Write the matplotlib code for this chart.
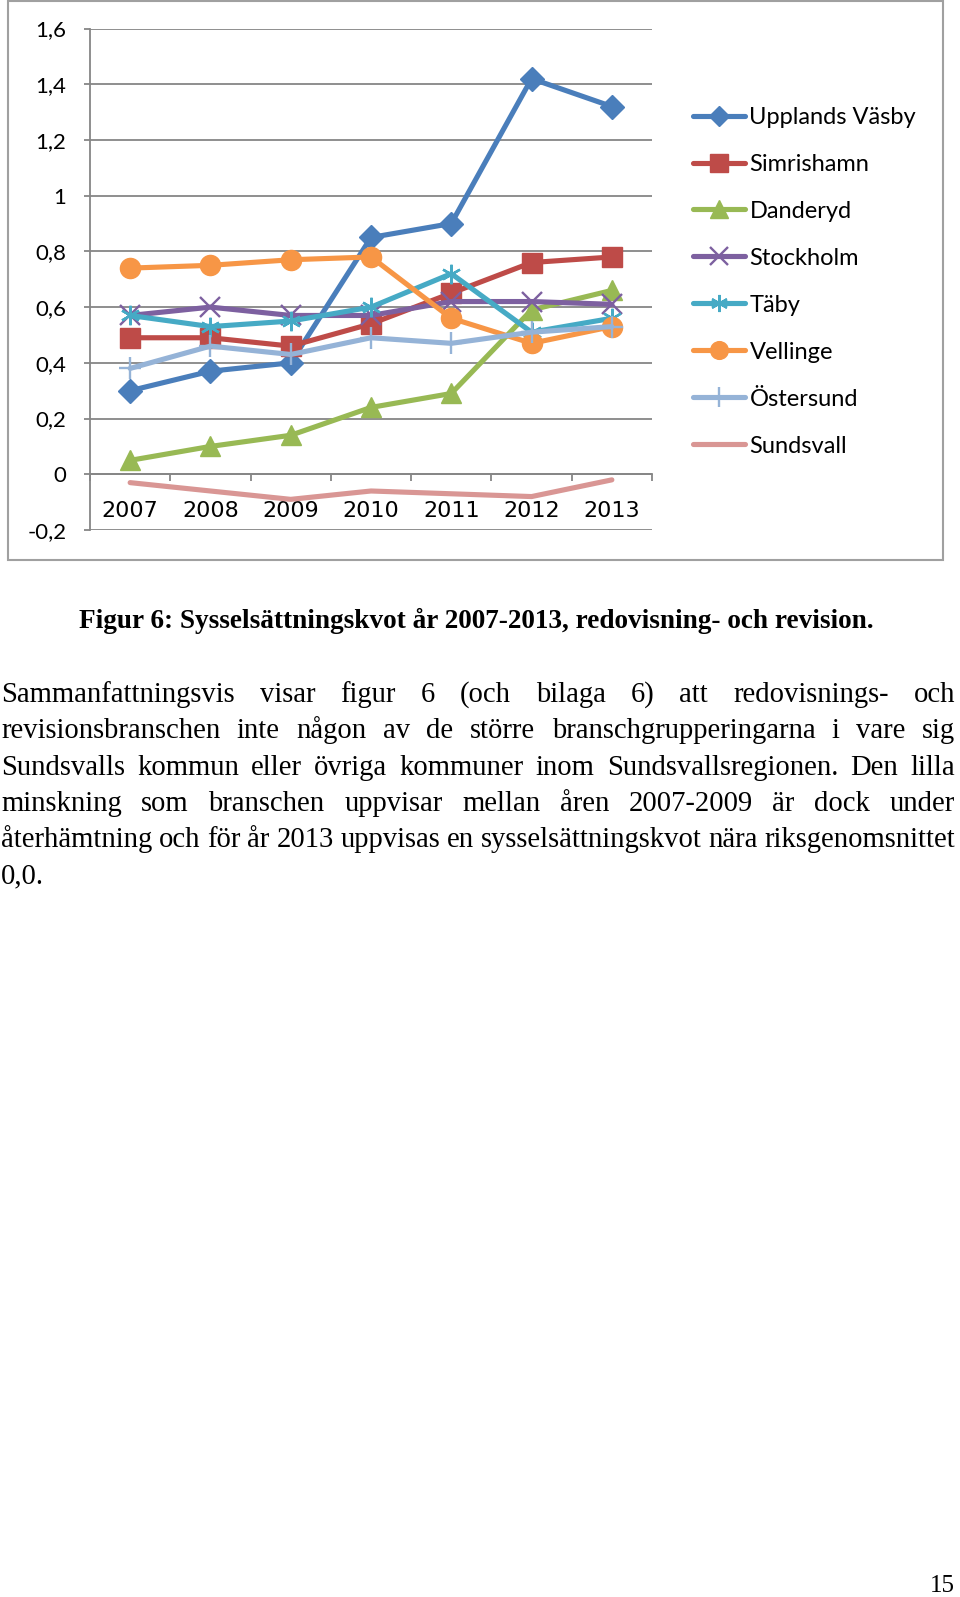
import numpy as np
import matplotlib.pyplot as plt
from matplotlib.patches import Rectangle

# chart data
years = ['2007', '2008', '2009', '2010', '2011', '2012', '2013']
upplands_vasby = [0.30, 0.37, 0.40, 0.85, 0.90, 1.42, 1.32]
simrishamn = [0.49, 0.49, 0.46, 0.54, 0.65, 0.76, 0.78]
danderyd = [0.05, 0.10, 0.14, 0.24, 0.29, 0.59, 0.66]
stockholm = [0.57, 0.60, 0.57, 0.57, 0.62, 0.62, 0.61]
taby = [0.57, 0.53, 0.55, 0.60, 0.72, 0.51, 0.56]
vellinge = [0.74, 0.75, 0.77, 0.78, 0.56, 0.47, 0.53]
ostersund = [0.38, 0.46, 0.43, 0.49, 0.47, 0.51, 0.53]
sundsvall = [-0.03, -0.06, -0.09, -0.06, -0.07, -0.08, -0.02]

names = ['Upplands Väsby', 'Simrishamn', 'Danderyd', 'Stockholm', 'Täby',
         'Vellinge', 'Östersund', 'Sundsvall']
series = [upplands_vasby, simrishamn, danderyd, stockholm, taby,
          vellinge, ostersund, sundsvall]
colors = ['#4A7EBB', '#BE4B48', '#98B954', '#7D60A0', '#46AAC5',
          '#F79646', '#95B3D7', '#D99694']
markers = ['D', 's', '^', 'x', (6, 2, 0), 'o', '+', None]
msizes = [12, 14, 15, 14, 14, 14.5, 16, 0]

ytick_vals = [-0.2, 0, 0.2, 0.4, 0.6, 0.8, 1.0, 1.2, 1.4, 1.6]
ytick_labels = ['-0,2', '0', '0,2', '0,4', '0,6', '0,8', '1', '1,2', '1,4', '1,6']

caption = 'Figur 6: Sysselsättningskvot år 2007-2013, redovisning- och revision.'
para_lines = [
    'Sammanfattningsvis visar figur 6 (och bilaga 6) att redovisnings- och',
    'revisionsbranschen inte någon av de större branschgrupperingarna i vare sig',
    'Sundsvalls kommun eller övriga kommuner inom Sundsvallsregionen. Den lilla',
    'minskning som branschen uppvisar mellan åren 2007-2009 är dock under',
    'återhämtning och för år 2013 uppvisas en sysselsättningskvot nära riksgenomsnittet',
    '0,0.',
]

W, H = 960, 1597
fig = plt.figure(figsize=(W / 100, H / 100), dpi=100)
def fx(px): return px / W
def fy(py): return 1 - py / H

grid_col = '#868686'
tick_font = 'Lato'

ax = fig.add_axes([fx(90), fy(530), fx(652) - fx(90), fy(28.5) - fy(530)])
x = np.arange(len(years))
for vals, name, c, m, ms in zip(series, names, colors, markers, msizes):
    thin = m in ('x', '+', (6, 2, 0))
    ax.plot(x, vals, color=c, lw=3.7, marker=m, ms=ms, mfc=c, mec=c,
            mew=1.7 if thin else 1, label=name,
            solid_capstyle='round', solid_joinstyle='round')

ax.set_xlim(-0.5, len(years) - 0.5)
ax.set_ylim(-0.2, 1.6)
ax.set_yticks(ytick_vals)
ax.set_yticklabels(ytick_labels)
ax.yaxis.grid(True, color=grid_col, lw=1.3)
ax.set_axisbelow(True)
ax.tick_params(axis='y', direction='out', length=4, width=1.3, color=grid_col,
               pad=13, labelsize=16)

ax.set_xticks(np.arange(-0.5, len(years)), labels=[''] * (len(years) + 1))
ax.set_xticks(x, minor=True)
ax.set_xticklabels(years, minor=True)
ax.tick_params(axis='x', which='major', direction='out', length=5, width=1.3, color=grid_col)
ax.tick_params(axis='x', which='minor', length=0, pad=19, labelsize=16)
for lab in ax.get_yticklabels() + ax.get_xticklabels(minor=True):
    lab.set_family(tick_font)

for s in ('top', 'right'):
    ax.spines[s].set_visible(False)
ax.spines['left'].set_color(grid_col)
ax.spines['left'].set_linewidth(1.3)
ax.spines['bottom'].set_position(('data', 0))
ax.spines['bottom'].set_color(grid_col)
ax.spines['bottom'].set_linewidth(1.3)

handles, labels = ax.get_legend_handles_labels()
fig.legend(handles, labels, loc='upper left', bbox_to_anchor=(fx(681), fy(95)),
           frameon=False, prop={'family': tick_font, 'size': 17},
           handlelength=2.2, handletextpad=0.2, labelspacing=1.1,
           borderpad=0, markerscale=0.88)

# chart frame
fig.add_artist(Rectangle((fx(8), fy(560)), fx(943) - fx(8), fy(1) - fy(560),
                         transform=fig.transFigure, fill=False, ec='#A0A0A0', lw=1.5))

renderer = fig.canvas.get_renderer()
serif = 'Liberation Serif'

# caption, sized to its width on the page
cap = fig.text(fx(476), fy(628), caption, ha='center', va='baseline',
               family=serif, weight='bold', fontsize=16)
cw = cap.get_window_extent(renderer).width
cap.set_fontsize(16 * 800 / cw)

# justified paragraph, font sized from the first word's width
probe = fig.text(0, 0, 'Sammanfattningsvis', family=serif, fontsize=18)
pw = probe.get_window_extent(renderer).width
probe.remove()
pfs = 18 * 233 / pw
sp = fig.text(0, 0, 'a a', family=serif, fontsize=pfs)
aa = fig.text(0, 0, 'aa', family=serif, fontsize=pfs)
sw = sp.get_window_extent(renderer).width - aa.get_window_extent(renderer).width
sp.remove()
aa.remove()

x0, x1 = 1, 955
for i, line in enumerate(para_lines):
    yb = 702 + i * 36.3
    words = line.split(' ')
    texts = [fig.text(0, fy(yb), w, family=serif, fontsize=pfs, va='baseline') for w in words]
    widths = [t.get_window_extent(renderer).width for t in texts]
    last = i == len(para_lines) - 1
    gap = sw if last or len(words) < 2 else (x1 - x0 - sum(widths)) / (len(words) - 1)
    gap = max(gap, 0.6 * sw)
    xp = x0
    for t, wd in zip(texts, widths):
        t.set_x(fx(xp))
        xp += wd + gap

fig.text(fx(942), fy(1592), '15', ha='center', va='baseline', family=serif, fontsize=18)

fig.savefig('out.png', dpi=100)
